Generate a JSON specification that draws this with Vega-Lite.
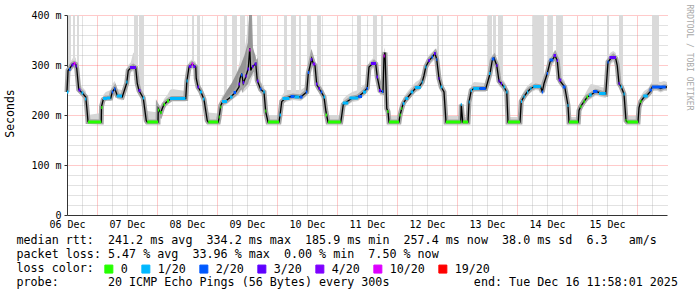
{
  "$schema": "https://vega.github.io/schema/vega-lite/v6.json",
  "width": 600,
  "height": 200,
  "autosize": "none",
  "padding": {"left": 67, "top": 15, "right": 30, "bottom": 82},
  "background": "#ffffff",
  "config": {"view": {"stroke": null}, "font": "DejaVu Sans Mono"},
  "datasets": {
    "med": [
      {"h":0,"ms":246,"lo":238,"hi":262},{"h":0.4,"ms":289,"lo":280,"hi":300},{"h":1.1,"ms":293,"lo":285,"hi":305},{"h":2.1,"ms":301,"lo":292,"hi":312},{"h":2.8,"ms":303,"lo":294,"hi":318},{"h":3.5,"ms":301,"lo":292,"hi":314},{"h":3.9,"ms":293,"lo":282,"hi":305},{"h":4.7,"ms":251,"lo":244,"hi":262},{"h":6.1,"ms":244,"lo":236,"hi":256},{"h":7.5,"ms":236,"lo":228,"hi":248},{"h":7.9,"ms":216,"lo":208,"hi":230},{"h":8.4,"ms":187,"lo":184,"hi":200},{"h":13.7,"ms":186,"lo":184,"hi":204},
      {"h":13.8,"ms":217,"lo":210,"hi":226},{"h":14.5,"ms":231,"lo":224,"hi":240},{"h":15.5,"ms":234,"lo":228,"hi":246},{"h":17.5,"ms":234,"lo":228,"hi":250},{"h":18.1,"ms":246,"lo":238,"hi":262},{"h":19.1,"ms":253,"lo":244,"hi":268},{"h":20.1,"ms":239,"lo":232,"hi":252},{"h":22.1,"ms":236,"lo":229,"hi":250},{"h":23.9,"ms":264,"lo":255,"hi":276},{"h":24.5,"ms":289,"lo":280,"hi":300},{"h":25.5,"ms":294,"lo":285,"hi":305},{"h":26.5,"ms":297,"lo":288,"hi":325},{"h":27.5,"ms":294,"lo":285,"hi":320},{"h":28.1,"ms":263,"lo":254,"hi":300},{"h":28.8,"ms":249,"lo":241,"hi":262},{"h":30.5,"ms":234,"lo":226,"hi":246},{"h":31.7,"ms":189,"lo":185,"hi":210},{"h":32.1,"ms":186,"lo":184,"hi":208},{"h":36.4,"ms":186,"lo":184,"hi":205},
      {"h":36.5,"ms":213,"lo":204,"hi":222},{"h":37.5,"ms":204,"lo":196,"hi":214},{"h":38.1,"ms":213,"lo":205,"hi":222},{"h":38.8,"ms":221,"lo":213,"hi":232},{"h":40.1,"ms":227,"lo":219,"hi":240},{"h":41.2,"ms":231,"lo":224,"hi":250},{"h":42.1,"ms":233,"lo":227,"hi":252},{"h":47.5,"ms":233,"lo":227,"hi":248},{"h":47.9,"ms":266,"lo":256,"hi":276},{"h":48.8,"ms":296,"lo":287,"hi":306},{"h":50.1,"ms":302,"lo":292,"hi":312},{"h":51.5,"ms":296,"lo":287,"hi":306},{"h":51.7,"ms":273,"lo":264,"hi":290},{"h":52.4,"ms":256,"lo":248,"hi":270},{"h":53.5,"ms":247,"lo":240,"hi":258},{"h":54.8,"ms":231,"lo":224,"hi":244},{"h":56.1,"ms":189,"lo":185,"hi":205},{"h":56.5,"ms":186,"lo":184,"hi":205},{"h":60.5,"ms":186,"lo":184,"hi":203},
      {"h":60.8,"ms":194,"lo":188,"hi":205},{"h":61.5,"ms":219,"lo":212,"hi":230},{"h":62.1,"ms":225,"lo":217,"hi":238},{"h":63.5,"ms":228,"lo":220,"hi":246},{"h":65.5,"ms":236,"lo":228,"hi":258},{"h":67.5,"ms":246,"lo":236,"hi":275},{"h":68.8,"ms":256,"lo":240,"hi":300},{"h":69.2,"ms":273,"lo":245,"hi":310},{"h":69.9,"ms":283,"lo":250,"hi":330},{"h":70.5,"ms":263,"lo":245,"hi":320},{"h":71.5,"ms":276,"lo":250,"hi":345},{"h":72.5,"ms":293,"lo":255,"hi":380},{"h":73.1,"ms":334,"lo":260,"hi":400},{"h":73.5,"ms":289,"lo":265,"hi":390},{"h":74.1,"ms":296,"lo":275,"hi":330},{"h":75.5,"ms":303,"lo":290,"hi":320},{"h":76.1,"ms":269,"lo":258,"hi":290},{"h":77.5,"ms":251,"lo":242,"hi":266},{"h":78.8,"ms":246,"lo":238,"hi":258},{"h":79.5,"ms":206,"lo":198,"hi":222},{"h":80.4,"ms":186,"lo":184,"hi":200},{"h":84.8,"ms":186,"lo":184,"hi":200},
      {"h":85.2,"ms":199,"lo":192,"hi":210},{"h":85.9,"ms":227,"lo":219,"hi":238},{"h":87.5,"ms":234,"lo":226,"hi":250},{"h":90.4,"ms":238,"lo":230,"hi":250},{"h":93.5,"ms":236,"lo":228,"hi":250},{"h":95.9,"ms":246,"lo":238,"hi":258},{"h":96.5,"ms":283,"lo":272,"hi":295},{"h":97.9,"ms":313,"lo":302,"hi":325},{"h":98.5,"ms":303,"lo":292,"hi":315},{"h":99.2,"ms":299,"lo":288,"hi":310},{"h":99.9,"ms":261,"lo":252,"hi":275},{"h":100.8,"ms":253,"lo":245,"hi":265},{"h":101.7,"ms":246,"lo":238,"hi":258},{"h":102.8,"ms":236,"lo":228,"hi":248},{"h":103.6,"ms":206,"lo":198,"hi":218},{"h":104.4,"ms":186,"lo":184,"hi":200},{"h":109.5,"ms":186,"lo":184,"hi":200},
      {"h":109.9,"ms":199,"lo":192,"hi":210},{"h":110.5,"ms":221,"lo":213,"hi":232},{"h":112.1,"ms":227,"lo":219,"hi":240},{"h":114.1,"ms":234,"lo":226,"hi":246},{"h":116.4,"ms":236,"lo":228,"hi":250},{"h":118.8,"ms":246,"lo":238,"hi":260},{"h":120.1,"ms":254,"lo":245,"hi":266},{"h":120.8,"ms":296,"lo":286,"hi":306},{"h":122.1,"ms":302,"lo":292,"hi":312},{"h":122.8,"ms":305,"lo":295,"hi":316},{"h":123.5,"ms":302,"lo":292,"hi":312},{"h":124.1,"ms":276,"lo":266,"hi":290},{"h":125.2,"ms":249,"lo":240,"hi":262},{"h":126.4,"ms":246,"lo":238,"hi":258},{"h":126.8,"ms":318,"lo":300,"hi":330},{"h":127.2,"ms":325,"lo":300,"hi":335},{"h":127.9,"ms":213,"lo":200,"hi":225},{"h":128.4,"ms":207,"lo":195,"hi":215},{"h":128.8,"ms":186,"lo":184,"hi":198},{"h":132.8,"ms":186,"lo":184,"hi":198},
      {"h":133.2,"ms":199,"lo":192,"hi":210},{"h":133.9,"ms":213,"lo":205,"hi":224},{"h":134.5,"ms":223,"lo":215,"hi":234},{"h":135.5,"ms":231,"lo":223,"hi":242},{"h":136.4,"ms":236,"lo":228,"hi":248},{"h":138.1,"ms":246,"lo":238,"hi":258},{"h":139.5,"ms":254,"lo":246,"hi":266},{"h":140.8,"ms":256,"lo":248,"hi":270},{"h":142.1,"ms":266,"lo":257,"hi":278},{"h":142.8,"ms":279,"lo":270,"hi":290},{"h":143.5,"ms":296,"lo":286,"hi":306},{"h":144.8,"ms":309,"lo":299,"hi":320},{"h":146.1,"ms":316,"lo":306,"hi":326},{"h":147.2,"ms":323,"lo":312,"hi":332},{"h":147.9,"ms":311,"lo":300,"hi":322},{"h":148.8,"ms":273,"lo":263,"hi":286},{"h":149.7,"ms":256,"lo":248,"hi":268},{"h":150.8,"ms":246,"lo":238,"hi":258},{"h":151.6,"ms":186,"lo":184,"hi":198},{"h":157.5,"ms":186,"lo":184,"hi":198},{"h":157.7,"ms":221,"lo":184,"hi":228},{"h":158.3,"ms":186,"lo":184,"hi":196},{"h":160.4,"ms":186,"lo":184,"hi":196},
      {"h":160.8,"ms":226,"lo":218,"hi":236},{"h":161.7,"ms":249,"lo":240,"hi":260},{"h":162.8,"ms":253,"lo":246,"hi":266},{"h":167.5,"ms":253,"lo":246,"hi":264},{"h":168.1,"ms":263,"lo":254,"hi":274},{"h":169.2,"ms":283,"lo":273,"hi":294},{"h":170.1,"ms":309,"lo":298,"hi":320},{"h":170.8,"ms":314,"lo":303,"hi":325},{"h":171.9,"ms":299,"lo":288,"hi":310},{"h":172.8,"ms":268,"lo":258,"hi":280},{"h":173.7,"ms":263,"lo":254,"hi":274},{"h":174.8,"ms":256,"lo":248,"hi":268},{"h":175.9,"ms":246,"lo":238,"hi":258},{"h":176.4,"ms":186,"lo":184,"hi":196},{"h":181.2,"ms":186,"lo":184,"hi":196},
      {"h":181.7,"ms":227,"lo":219,"hi":238},{"h":182.8,"ms":237,"lo":229,"hi":248},{"h":184.1,"ms":246,"lo":238,"hi":258},{"h":185.5,"ms":253,"lo":245,"hi":264},{"h":187.5,"ms":258,"lo":250,"hi":270},{"h":189.5,"ms":256,"lo":248,"hi":268},{"h":190.1,"ms":246,"lo":238,"hi":258},{"h":190.8,"ms":263,"lo":254,"hi":274},{"h":192.1,"ms":283,"lo":273,"hi":294},{"h":193.2,"ms":306,"lo":296,"hi":318},{"h":194.5,"ms":313,"lo":302,"hi":325},{"h":195.2,"ms":319,"lo":308,"hi":330},{"h":196.1,"ms":309,"lo":298,"hi":320},{"h":196.8,"ms":273,"lo":264,"hi":286},{"h":197.5,"ms":266,"lo":257,"hi":278},{"h":199.1,"ms":256,"lo":248,"hi":268},{"h":200.4,"ms":219,"lo":210,"hi":230},{"h":200.8,"ms":186,"lo":184,"hi":196},{"h":204.5,"ms":186,"lo":184,"hi":196},
      {"h":204.8,"ms":209,"lo":200,"hi":218},{"h":205.5,"ms":217,"lo":209,"hi":226},{"h":206.8,"ms":227,"lo":219,"hi":238},{"h":208.1,"ms":236,"lo":228,"hi":250},{"h":209.5,"ms":240,"lo":232,"hi":262},{"h":211.5,"ms":247,"lo":239,"hi":260},{"h":213.7,"ms":244,"lo":236,"hi":256},{"h":215.5,"ms":242,"lo":234,"hi":254},{"h":216.4,"ms":306,"lo":295,"hi":318},{"h":217.5,"ms":313,"lo":302,"hi":325},{"h":218.5,"ms":317,"lo":306,"hi":328},{"h":219.5,"ms":313,"lo":302,"hi":324},{"h":220.1,"ms":299,"lo":288,"hi":310},{"h":220.8,"ms":263,"lo":254,"hi":274},{"h":221.7,"ms":256,"lo":248,"hi":268},{"h":222.8,"ms":242,"lo":234,"hi":254},{"h":223.6,"ms":189,"lo":185,"hi":200},{"h":224.1,"ms":186,"lo":184,"hi":198},{"h":228.4,"ms":186,"lo":184,"hi":198},
      {"h":228.8,"ms":215,"lo":207,"hi":224},{"h":229.5,"ms":227,"lo":219,"hi":238},{"h":230.8,"ms":236,"lo":228,"hi":248},{"h":232.1,"ms":240,"lo":232,"hi":252},{"h":233.2,"ms":246,"lo":238,"hi":258},{"h":234.1,"ms":256,"lo":248,"hi":268},{"h":236.1,"ms":256,"lo":248,"hi":268},{"h":237.5,"ms":253,"lo":245,"hi":266},{"h":238.8,"ms":256,"lo":248,"hi":268},{"h":240,"ms":256,"lo":248,"hi":266}
    ],
    "spikes": [
      {"h1":0.4,"h2":1.6,"lo":290,"hi":400},{"h1":2.4,"h2":3.2,"lo":300,"hi":400},{"h1":4.0,"h2":4.8,"lo":255,"hi":400},{"h1":26.8,"h2":28.4,"lo":270,"hi":400},{"h1":28.8,"h2":30.8,"lo":240,"hi":400},{"h1":50.0,"h2":50.8,"lo":300,"hi":400},{"h1":52.0,"h2":53.2,"lo":255,"hi":400},{"h1":62.8,"h2":64.0,"lo":235,"hi":400},{"h1":66.0,"h2":68.0,"lo":250,"hi":400},{"h1":69.2,"h2":71.2,"lo":270,"hi":400},{"h1":76.0,"h2":77.6,"lo":255,"hi":400},{"h1":86.8,"h2":88.0,"lo":240,"hi":400},{"h1":89.6,"h2":91.6,"lo":240,"hi":400},{"h1":92.8,"h2":93.6,"lo":240,"hi":400},{"h1":96.0,"h2":97.6,"lo":290,"hi":400},{"h1":100.0,"h2":101.6,"lo":255,"hi":400},{"h1":116.0,"h2":117.6,"lo":240,"hi":400},{"h1":122.4,"h2":124.0,"lo":300,"hi":400},{"h1":125.6,"h2":126.4,"lo":255,"hi":400},{"h1":148.0,"h2":148.8,"lo":280,"hi":400},{"h1":168.4,"h2":170.0,"lo":290,"hi":400},{"h1":170.4,"h2":171.6,"lo":300,"hi":400},{"h1":172.4,"h2":174.4,"lo":265,"hi":400},{"h1":186.4,"h2":190.8,"lo":260,"hi":400},{"h1":192.4,"h2":194.4,"lo":300,"hi":400},{"h1":195.6,"h2":198.4,"lo":270,"hi":400},{"h1":216.0,"h2":216.8,"lo":310,"hi":400},{"h1":220.8,"h2":222.4,"lo":260,"hi":400},{"h1":234.0,"h2":236.8,"lo":260,"hi":400}
    ],
    "dark": [
      {"h":62,"lo":220,"hi":232},{"h":64,"lo":226,"hi":250},{"h":66,"lo":232,"hi":265},{"h":68,"lo":240,"hi":285},{"h":69.5,"lo":250,"hi":300},{"h":71,"lo":255,"hi":320},{"h":72.4,"lo":262,"hi":345},{"h":72.8,"lo":270,"hi":400},{"h":74,"lo":280,"hi":400},{"h":74.4,"lo":285,"hi":335},{"h":75.5,"lo":292,"hi":315},{"h":76.1,"lo":262,"hi":282},{"h":77.5,"lo":246,"hi":256}
    ],
    "loss": [
      {"a":8.4,"b":13.7,"v":186,"loss":"0"},{"a":32.1,"b":36.4,"v":186,"loss":"0"},{"a":56.5,"b":60.5,"v":186,"loss":"0"},{"a":80.4,"b":84.8,"v":186,"loss":"0"},{"a":104.4,"b":109.5,"v":186,"loss":"0"},{"a":128.8,"b":132.8,"v":186,"loss":"0"},{"a":151.6,"b":157.5,"v":186,"loss":"0"},{"a":158.3,"b":160.4,"v":186,"loss":"0"},{"a":176.4,"b":181.2,"v":186,"loss":"0"},{"a":200.8,"b":204.5,"v":186,"loss":"0"},{"a":224.1,"b":228.4,"v":186,"loss":"0"},
      {"a":0,"b":0.6,"v":246,"loss":"1/20"},{"a":0.8,"b":1.4,"v":291,"loss":"2/20"},{"a":1.8,"b":2.6,"v":300,"loss":"3/20"},{"a":2.6,"b":3.4,"v":303,"loss":"10/20"},{"a":3.4,"b":3.9,"v":298,"loss":"3/20"},{"a":4.6,"b":5.4,"v":250,"loss":"3/20"},{"a":5.8,"b":6.5,"v":244,"loss":"1/20"},{"a":7.2,"b":7.7,"v":232,"loss":"1/20"},
      {"a":13.7,"b":14.2,"v":215,"loss":"0"},{"a":14.4,"b":16.0,"v":233,"loss":"1/20"},{"a":16.0,"b":17.4,"v":234,"loss":"1/20"},{"a":17.9,"b":18.5,"v":246,"loss":"2/20"},{"a":18.8,"b":19.4,"v":252,"loss":"2/20"},{"a":19.9,"b":22.0,"v":238,"loss":"1/20"},{"a":23.7,"b":24.2,"v":266,"loss":"1/20"},{"a":25.2,"b":27.6,"v":295,"loss":"3/20"},{"a":28.6,"b":29.4,"v":249,"loss":"3/20"},{"a":30.3,"b":30.9,"v":234,"loss":"1/20"},
      {"a":36.4,"b":36.9,"v":210,"loss":"0"},{"a":37.3,"b":37.9,"v":205,"loss":"0"},{"a":38.6,"b":39.2,"v":221,"loss":"0"},{"a":40.0,"b":40.8,"v":228,"loss":"0"},{"a":41.2,"b":47.4,"v":233,"loss":"1/20"},{"a":47.8,"b":48.3,"v":268,"loss":"1/20"},{"a":48.7,"b":49.8,"v":297,"loss":"3/20"},{"a":49.8,"b":50.5,"v":302,"loss":"10/20"},{"a":50.5,"b":51.4,"v":297,"loss":"3/20"},{"a":52.2,"b":52.8,"v":256,"loss":"3/20"},{"a":53.2,"b":54.0,"v":246,"loss":"1/20"},{"a":54.4,"b":55.0,"v":232,"loss":"1/20"},
      {"a":60.7,"b":61.1,"v":196,"loss":"0"},{"a":61.3,"b":61.7,"v":216,"loss":"0"},{"a":62.0,"b":64.0,"v":227,"loss":"1/20"},{"a":65.2,"b":66.2,"v":236,"loss":"1/20"},{"a":66.6,"b":67.6,"v":245,"loss":"2/20"},{"a":68.6,"b":69.2,"v":262,"loss":"3/20"},{"a":69.6,"b":70.2,"v":280,"loss":"2/20"},{"a":70.3,"b":70.9,"v":265,"loss":"3/20"},{"a":71.3,"b":71.9,"v":278,"loss":"3/20"},{"a":72.2,"b":72.8,"v":292,"loss":"3/20"},{"a":72.9,"b":73.4,"v":330,"loss":"10/20"},{"a":74.0,"b":74.6,"v":297,"loss":"3/20"},{"a":75.0,"b":75.8,"v":302,"loss":"3/20"},{"a":76.0,"b":76.6,"v":268,"loss":"3/20"},{"a":77.2,"b":77.8,"v":252,"loss":"2/20"},{"a":78.5,"b":79.1,"v":246,"loss":"1/20"},{"a":79.3,"b":79.7,"v":208,"loss":"0"},
      {"a":85.0,"b":85.6,"v":200,"loss":"1/20"},{"a":86.2,"b":89.0,"v":233,"loss":"1/20"},{"a":89.4,"b":91.0,"v":237,"loss":"2/20"},{"a":91.0,"b":93.0,"v":236,"loss":"1/20"},{"a":93.2,"b":94.2,"v":236,"loss":"2/20"},{"a":95.5,"b":96.1,"v":246,"loss":"2/20"},{"a":96.3,"b":96.9,"v":285,"loss":"2/20"},{"a":97.5,"b":98.1,"v":311,"loss":"3/20"},{"a":98.3,"b":99.3,"v":302,"loss":"4/20"},{"a":99.6,"b":100.2,"v":262,"loss":"3/20"},{"a":100.6,"b":101.2,"v":253,"loss":"3/20"},{"a":101.5,"b":102.1,"v":246,"loss":"2/20"},{"a":102.6,"b":103.2,"v":236,"loss":"1/20"},{"a":103.4,"b":104.0,"v":200,"loss":"0"},
      {"a":110.3,"b":112.5,"v":224,"loss":"1/20"},{"a":113.0,"b":116.5,"v":234,"loss":"1/20"},{"a":116.5,"b":118.0,"v":237,"loss":"2/20"},{"a":118.4,"b":119.6,"v":246,"loss":"1/20"},{"a":119.8,"b":120.4,"v":253,"loss":"2/20"},{"a":121.6,"b":123.6,"v":303,"loss":"3/20"},{"a":123.8,"b":124.4,"v":276,"loss":"3/20"},{"a":124.8,"b":125.6,"v":249,"loss":"3/20"},{"a":125.9,"b":126.5,"v":247,"loss":"2/20"},{"a":126.6,"b":127.1,"v":318,"loss":"10/20"},{"a":128.1,"b":128.6,"v":207,"loss":"0"},
      {"a":133.0,"b":133.5,"v":200,"loss":"0"},{"a":133.7,"b":134.1,"v":213,"loss":"0"},{"a":134.3,"b":135.0,"v":223,"loss":"1/20"},{"a":135.3,"b":136.5,"v":233,"loss":"1/20"},{"a":137.5,"b":138.5,"v":246,"loss":"1/20"},{"a":139.2,"b":141.5,"v":255,"loss":"1/20"},{"a":141.9,"b":142.3,"v":266,"loss":"1/20"},{"a":143.3,"b":143.8,"v":296,"loss":"1/20"},{"a":144.5,"b":145.2,"v":309,"loss":"3/20"},{"a":145.8,"b":146.4,"v":316,"loss":"2/20"},{"a":146.8,"b":147.5,"v":323,"loss":"3/20"},{"a":147.7,"b":148.1,"v":311,"loss":"2/20"},{"a":148.6,"b":149.0,"v":273,"loss":"3/20"},{"a":149.5,"b":150.1,"v":256,"loss":"1/20"},{"a":157.5,"b":157.9,"v":221,"loss":"1/20"},
      {"a":160.7,"b":161.1,"v":226,"loss":"1/20"},{"a":161.5,"b":162.0,"v":249,"loss":"1/20"},{"a":162.5,"b":165.0,"v":253,"loss":"1/20"},{"a":165.0,"b":167.5,"v":253,"loss":"2/20"},{"a":168.8,"b":169.4,"v":283,"loss":"1/20"},{"a":169.9,"b":171.0,"v":312,"loss":"2/20"},{"a":171.7,"b":172.2,"v":299,"loss":"3/20"},{"a":172.6,"b":173.1,"v":268,"loss":"3/20"},{"a":173.5,"b":174.0,"v":263,"loss":"3/20"},{"a":174.6,"b":175.2,"v":256,"loss":"1/20"},{"a":175.7,"b":176.2,"v":246,"loss":"1/20"},
      {"a":181.6,"b":182.0,"v":227,"loss":"1/20"},{"a":182.6,"b":183.1,"v":237,"loss":"1/20"},{"a":184.0,"b":184.5,"v":246,"loss":"1/20"},{"a":185.3,"b":185.8,"v":253,"loss":"1/20"},{"a":186.5,"b":189.5,"v":257,"loss":"1/20"},{"a":189.9,"b":190.5,"v":246,"loss":"2/20"},{"a":191.9,"b":192.4,"v":283,"loss":"2/20"},{"a":193.0,"b":194.5,"v":310,"loss":"2/20"},{"a":194.6,"b":195.6,"v":319,"loss":"3/20"},{"a":195.9,"b":196.4,"v":309,"loss":"3/20"},{"a":196.7,"b":197.7,"v":270,"loss":"3/20"},{"a":198.3,"b":199.4,"v":256,"loss":"2/20"},{"a":200.2,"b":200.6,"v":219,"loss":"1/20"},
      {"a":205.3,"b":205.8,"v":217,"loss":"0"},{"a":206.6,"b":207.1,"v":227,"loss":"0"},{"a":207.8,"b":208.4,"v":236,"loss":"0"},{"a":208.8,"b":209.9,"v":240,"loss":"1/20"},{"a":210.4,"b":212.2,"v":247,"loss":"2/20"},{"a":212.8,"b":215.5,"v":243,"loss":"1/20"},{"a":216.2,"b":216.7,"v":306,"loss":"2/20"},{"a":217.0,"b":219.6,"v":315,"loss":"3/20"},{"a":220.6,"b":221.1,"v":263,"loss":"3/20"},{"a":221.5,"b":222.0,"v":256,"loss":"1/20"},{"a":222.6,"b":223.1,"v":242,"loss":"1/20"},{"a":223.4,"b":223.8,"v":189,"loss":"0"},
      {"a":229.3,"b":229.8,"v":227,"loss":"0"},{"a":230.5,"b":232.3,"v":238,"loss":"1/20"},{"a":233.0,"b":234.0,"v":250,"loss":"2/20"},{"a":234.0,"b":239.5,"v":256,"loss":"2/20"}
    ]
  },
  "layer": [
    {
      "data": {"name": "med"},
      "mark": {"type": "area", "color": "#d6d6d6", "opacity": 1},
      "encoding": {
        "x": {"field": "h", "type": "quantitative", "scale": {"domain": [0, 240], "nice": false, "zero": false},
          "axis": {"orient": "top", "values": [6,18,24,30,42,48,54,66,72,78,90,96,102,114,120,126,138,144,150,162,168,174,186,192,198,210,216,222,234], "labels": false, "ticks": false, "domain": false, "title": null, "grid": true, "gridColor": "#a8a8a8", "gridOpacity": 0.65, "gridDash": [1,1], "gridWidth": 1}},
        "y": {"field": "lo", "type": "quantitative", "scale": {"domain": [0, 400], "nice": false, "zero": false},
          "axis": {"orient": "right", "values": [20,40,60,80,120,140,160,180,220,240,260,280,320,340,360,380], "labels": false, "ticks": false, "domain": false, "title": null, "grid": true, "gridColor": "#a8a8a8", "gridOpacity": 0.65, "gridDash": [1,1], "gridWidth": 1}},
        "y2": {"field": "hi"}
      }
    },
    {
      "data": {"name": "spikes"},
      "mark": {"type": "rect", "color": "#dadada"},
      "encoding": {
        "x": {"field": "h1", "type": "quantitative",
          "axis": {"orient": "top", "values": [12,36,60,84,108,132,156,180,204,228], "labels": false, "ticks": false, "domain": false, "title": null, "grid": true, "gridColor": "#ff4040", "gridOpacity": 0.55, "gridDash": [1,1], "gridWidth": 1}},
        "x2": {"field": "h2"},
        "y": {"field": "lo", "type": "quantitative",
          "axis": {"orient": "right", "values": [100,200,300,400], "labels": false, "ticks": false, "domain": false, "title": null, "grid": true, "gridColor": "#ff4040", "gridOpacity": 0.55, "gridDash": [1,1], "gridWidth": 1}},
        "y2": {"field": "hi"}
      }
    },
    {
      "data": {"name": "dark"},
      "mark": {"type": "area", "color": "#8a8a8a", "opacity": 0.85},
      "encoding": {
        "x": {"field": "h", "type": "quantitative", "axis": null},
        "y": {"field": "lo", "type": "quantitative", "axis": null},
        "y2": {"field": "hi"}
      }
    },
    {
      "data": {"name": "med"},
      "mark": {"type": "line", "color": "#a6a6a6", "strokeWidth": 5},
      "encoding": {
        "x": {"field": "h", "type": "quantitative", "axis": null},
        "y": {"field": "ms", "type": "quantitative", "axis": null}
      }
    },
    {
      "data": {"name": "med"},
      "mark": {"type": "line", "color": "#000000", "strokeWidth": 1.3},
      "encoding": {
        "x": {"field": "h", "type": "quantitative",
          "axis": {"orient": "bottom", "values": [0,24,48,72,96,120,144,168,192,216],
            "labelExpr": "(6 + datum.value/24 < 10 ? '0' : '') + (6 + datum.value/24) + ' Dec'",
            "labelFont": "DejaVu Sans Mono", "labelFontSize": 10, "labelColor": "#000", "labelPadding": 4, "labelFlush": false, "labelOverlap": false,
            "grid": false, "ticks": false, "domain": true, "domainColor": "#333333", "domainWidth": 1,
            "title": ["median\u00a0rtt:\u00a0\u00a0241.2\u00a0ms\u00a0avg\u00a0\u00a0334.2\u00a0ms\u00a0max\u00a0\u00a0185.9\u00a0ms\u00a0min\u00a0\u00a0257.4\u00a0ms\u00a0now\u00a0\u00a038.0\u00a0ms\u00a0sd\u00a0\u00a06.3\u00a0\u00a0\u00a0am/s", "packet\u00a0loss:\u00a05.47\u00a0%\u00a0avg\u00a0\u00a033.96\u00a0%\u00a0max\u00a0\u00a00.00\u00a0%\u00a0min\u00a0\u00a07.50\u00a0%\u00a0now", "loss\u00a0color:", "probe:\u00a0\u00a0\u00a0\u00a0\u00a0\u00a0\u00a020\u00a0ICMP\u00a0Echo\u00a0Pings\u00a0(56\u00a0Bytes)\u00a0every\u00a0300s\u00a0\u00a0\u00a0\u00a0\u00a0\u00a0\u00a0\u00a0\u00a0\u00a0\u00a0\u00a0end:\u00a0Tue\u00a0Dec\u00a016\u00a011:58:01\u00a02025"],
            "titleFont": "DejaVu Sans Mono", "titleFontSize": 11.7, "titleFontWeight": "normal", "titleColor": "#000", "titleAlign": "left", "titleBaseline": "top", "titleAngle": 0, "titleX": -51, "titleY": 19, "titleLineHeight": 14}},
        "y": {"field": "ms", "type": "quantitative",
          "axis": {"orient": "left", "values": [0,100,200,300,400],
            "labelExpr": "datum.value == 0 ? '0' : datum.value + ' m'",
            "labelFont": "DejaVu Sans Mono", "labelFontSize": 10, "labelColor": "#000", "labelPadding": 3, "labelFlush": false,
            "grid": false, "ticks": true, "tickSize": 3, "tickColor": "#333333", "domain": true, "domainColor": "#333333",
            "title": "Seconds", "titleFont": "DejaVu Sans Mono", "titleFontSize": 11.5, "titleFontWeight": "normal", "titleColor": "#000", "titleX": -57, "titleY": 98, "titleAngle": -90, "titleAlign": "center", "titleBaseline": "middle"}}
      }
    },
    {
      "data": {"name": "loss"},
      "mark": {"type": "rule", "strokeWidth": 3},
      "encoding": {
        "x": {"field": "a", "type": "quantitative", "axis": null},
        "x2": {"field": "b"},
        "y": {"field": "v", "type": "quantitative",
          "axis": {"orient": "right", "labels": false, "ticks": false, "domain": false, "grid": false,
            "title": "RRDTOOL\u00a0/\u00a0TOBI\u00a0OETIKER", "titleFont": "DejaVu Sans Mono", "titleFontSize": 8, "titleFontWeight": "normal", "titleColor": "#a8a8a8", "titleAngle": 90, "titleAlign": "left", "titleBaseline": "middle", "titleX": 21, "titleY": -11}},
        "color": {"field": "loss", "type": "nominal",
          "scale": {"domain": ["0","1/20","2/20","3/20","4/20","10/20","19/20"], "range": ["#26ff00","#00b8ff","#0059ff","#5e00ff","#7e00ff","#dd00ff","#ff0000"]},
          "legend": {"orient": "none", "legendX": 36, "legendY": 248, "direction": "horizontal", "title": null,
            "symbolType": "square", "symbolSize": 64, "symbolStrokeWidth": 1, "symbolStrokeColor": "#000",
            "labelFont": "DejaVu Sans Mono", "labelFontSize": 11.7, "labelColor": "#000", "labelOffset": 6, "columnPadding": 11,
            "encode": {"symbols": {"update": {"fill": {"scale": "color", "field": "value"}, "stroke": {"value": "#000"}, "strokeWidth": {"value": 1}, "opacity": {"value": 1}, "fillOpacity": {"value": 1}}}}}}
      }
    },
    {
      "mark": {"type": "rule", "color": "#333333", "clip": false},
      "encoding": {"x": {"datum": 0, "type": "quantitative", "axis": null}, "y": {"datum": 400, "type": "quantitative", "axis": null}, "y2": {"datum": 410}}
    },
    {
      "mark": {"type": "rule", "color": "#333333", "clip": false},
      "encoding": {"x": {"datum": 240, "type": "quantitative", "axis": null}, "x2": {"datum": 241}, "y": {"datum": 0, "type": "quantitative", "axis": null}}
    },
    {
      "mark": {"type": "point", "shape": "triangle-up", "filled": true, "color": "#8c1c1c", "size": 30, "opacity": 1, "clip": false},
      "encoding": {"x": {"datum": 0, "type": "quantitative", "axis": null}, "y": {"datum": 412, "type": "quantitative", "axis": null}}
    },
    {
      "mark": {"type": "point", "shape": "triangle-right", "filled": true, "color": "#8c1c1c", "size": 30, "opacity": 1, "clip": false},
      "encoding": {"x": {"datum": 241.6, "type": "quantitative", "axis": null}, "y": {"datum": 0, "type": "quantitative", "axis": null}}
    }
  ],
  "resolve": {"axis": {"x": "independent", "y": "independent"}}
}
